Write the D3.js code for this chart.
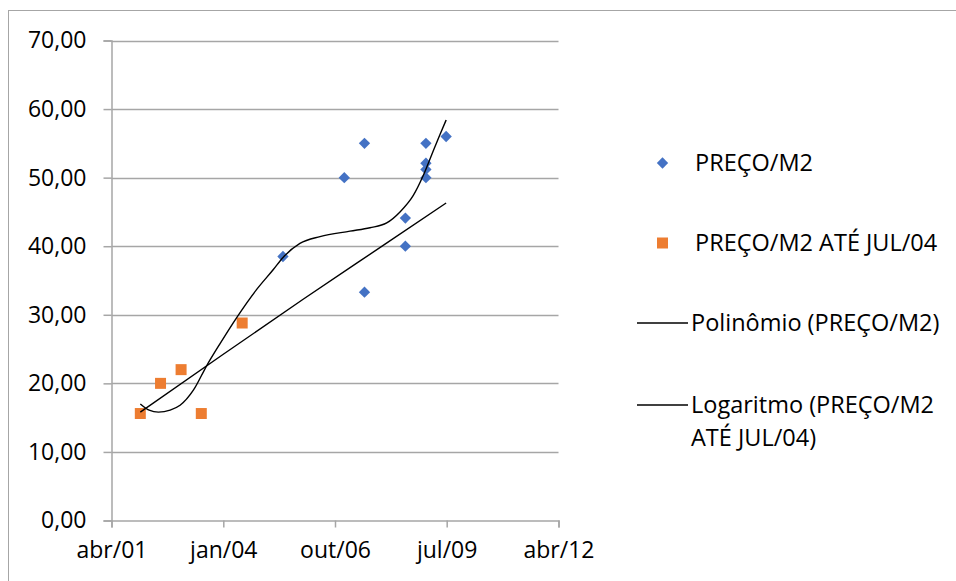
<!DOCTYPE html>
<html>
<head>
<meta charset="utf-8">
<script src="https://cdn.jsdelivr.net/npm/d3@7"></script>
<style>
    body { margin: 0; background: #fff; }
    text { font-family: "Open Sans", sans-serif; fill: #000; }
</style>
</head>
<body>
<div id="chart"></div>
<script>

// PREÇO/M2 (blue diamonds)
let precoDates  = ["2005-07-01", "2007-01-01", "2007-07-01", "2007-07-01", "2008-07-01", "2008-07-01",
                   "2009-01-01", "2009-01-01", "2009-01-01", "2009-01-01", "2009-07-01"];
let precoValues = [38.5, 50.0, 55.0, 33.3, 44.1, 40.0, 55.0, 52.1, 51.2, 50.0, 56.0];

// PREÇO/M2 ATÉ JUL/04 (orange squares)
let ateDates  = ["2002-01-01", "2002-07-01", "2003-01-01", "2003-07-01", "2004-07-01"];
let ateValues = [15.6, 20.0, 22.0, 15.6, 28.8];

// trendlines
let polyDates  = ["2002-01-01", "2002-03-21", "2002-06-12", "2002-09-25", "2002-12-23", "2003-04-21",
                  "2003-08-19", "2003-12-16", "2004-05-13", "2004-11-08", "2005-04-06", "2005-07-04",
                  "2005-11-30", "2006-05-29", "2007-02-21", "2007-08-19", "2008-01-16", "2008-05-14",
                  "2008-09-10", "2008-12-08", "2009-02-21", "2009-05-07", "2009-07-01"];
let polyValues = [17.0, 16.1, 15.8, 16.1, 16.8, 19.0, 22.6, 25.8, 29.6, 33.7, 36.6, 38.4,
                  40.4, 41.4, 42.2, 42.7, 43.4, 45.0, 47.4, 50.3, 53.3, 56.3, 58.4];

let logDates  = ["2002-01-01", "2004-01-01", "2006-01-01", "2008-01-01", "2009-07-01"];
let logValues = [15.8, 24.1, 32.3, 40.3, 46.3];

// axes
let xDomain   = ["2001-04-18", "2012-04-02"];
let xTicks    = ["2001-04-18", "2004-01-14", "2006-10-10", "2009-07-06", "2012-04-02"];
let xLabels   = ["abr/01", "jan/04", "out/06", "jul/09", "abr/12"];
let yTicks    = [0, 10, 20, 30, 40, 50, 60, 70];

let legendLabels = ["PREÇO/M2", "PREÇO/M2 ATÉ JUL/04", "Polinômio (PREÇO/M2)", ["Logaritmo (PREÇO/M2", "ATÉ JUL/04)"]];

const parseDate = d3.timeParse("%Y-%m-%d");
const fmtY = v => d3.format(".2f")(v).replace(".", ",");

let width = 956, height = 581;

let svg = d3.select("#chart").append("svg")
    .attr("width", width)
    .attr("height", height);

// chart border
svg.append("rect")
    .attr("x", 8.5).attr("y", 10.5)
    .attr("width", 960).attr("height", 600)
    .attr("fill", "none")
    .attr("stroke", "#a6a6a6")
    .attr("stroke-width", 1);

// scales
let x = d3.scaleTime()
    .domain(xDomain.map(parseDate))
    .range([111.5, 558.5]);
let y = d3.scaleLinear()
    .domain([0, 70])
    .range([520.5, 40.5]);

// gridlines
svg.append("g")
    .selectAll("line")
    .data(yTicks.filter(d => d > 0))
    .enter().append("line")
    .attr("x1", x.range()[0]).attr("x2", x.range()[1])
    .attr("y1", d => Math.round(y(d)) + 0.5).attr("y2", d => Math.round(y(d)) + 0.5)
    .attr("stroke", "#a6a6a6")
    .attr("stroke-width", 1.5);

// y axis
let yAxis = d3.axisLeft(y)
    .tickValues(yTicks)
    .tickSize(8)
    .tickPadding(17)
    .tickFormat(fmtY);
let gy = svg.append("g")
    .attr("transform", `translate(${x.range()[0]},0)`)
    .call(yAxis);
gy.select(".domain").attr("stroke", "#a6a6a6").attr("stroke-width", 1.5);
gy.selectAll(".tick line").attr("stroke", "#a6a6a6").attr("stroke-width", 1.5);
gy.selectAll(".tick text").style("font-size", "23px").attr("fill", "#000");

// x axis
let xAxis = d3.axisBottom(x)
    .tickValues(xTicks.map(parseDate))
    .tickSize(7)
    .tickPadding(14)
    .tickFormat((d, i) => xLabels[i]);
let gx = svg.append("g")
    .attr("transform", `translate(0,${y(0)})`)
    .call(xAxis);
gx.select(".domain").attr("stroke", "#a6a6a6").attr("stroke-width", 1.5);
gx.selectAll(".tick line").attr("stroke", "#a6a6a6").attr("stroke-width", 1.5);
gx.selectAll(".tick text").style("font-size", "23px").attr("fill", "#000");

// markers
let diamond = d3.symbol().type(d3.symbolSquare).size(64);
let square = d3.symbol().type(d3.symbolSquare).size(121);

let precoData = precoDates.map((d, i) => ({date: parseDate(d), value: precoValues[i]}));
let ateData = ateDates.map((d, i) => ({date: parseDate(d), value: ateValues[i]}));

svg.append("g")
    .selectAll("path")
    .data(precoData)
    .enter().append("path")
    .attr("d", diamond)
    .attr("transform", d => `translate(${x(d.date)},${y(d.value)}) rotate(45)`)
    .attr("fill", "#4472c4");

svg.append("g")
    .selectAll("path")
    .data(ateData)
    .enter().append("path")
    .attr("d", square)
    .attr("transform", d => `translate(${x(d.date)},${y(d.value)})`)
    .attr("fill", "#ed7d31");

// trendlines
let line = d3.line()
    .x(d => x(d.date))
    .y(d => y(d.value))
    .curve(d3.curveMonotoneX);

let polyData = polyDates.map((d, i) => ({date: parseDate(d), value: polyValues[i]}));
let logData = logDates.map((d, i) => ({date: parseDate(d), value: logValues[i]}));

svg.append("path")
    .datum(polyData)
    .attr("d", line)
    .attr("fill", "none")
    .attr("stroke", "#000")
    .attr("stroke-width", 1.4);

svg.append("path")
    .datum(logData)
    .attr("d", line)
    .attr("fill", "none")
    .attr("stroke", "#000")
    .attr("stroke-width", 1.4);

// legend
let legend = svg.append("g").attr("class", "legend");
let legendY = [163, 243, 323, 405];

legend.append("path")
    .attr("d", diamond)
    .attr("transform", `translate(662.5,${legendY[0]}) rotate(45)`)
    .attr("fill", "#4472c4");
legend.append("path")
    .attr("d", square)
    .attr("transform", `translate(662.5,${legendY[1]})`)
    .attr("fill", "#ed7d31");
[2, 3].forEach(i => {
    legend.append("line")
        .attr("x1", 637).attr("x2", 688)
        .attr("y1", legendY[i]).attr("y2", legendY[i])
        .attr("stroke", "#000")
        .attr("stroke-width", 1.4);
});

legendLabels.forEach((label, i) => {
    let t = legend.append("text")
        .attr("x", i < 2 ? 695 : 691)
        .attr("y", legendY[i])
        .attr("dy", "0.35em")
        .style("font-size", "23.5px");
    if (Array.isArray(label)) {
        label.forEach((part, j) => {
            t.append("tspan")
                .attr("x", 691)
                .attr("dy", j === 0 ? "0.35em" : "1.4em")
                .text(part);
        });
        t.attr("dy", null);
    } else {
        t.text(label);
    }
});

</script>
</body>
</html>
